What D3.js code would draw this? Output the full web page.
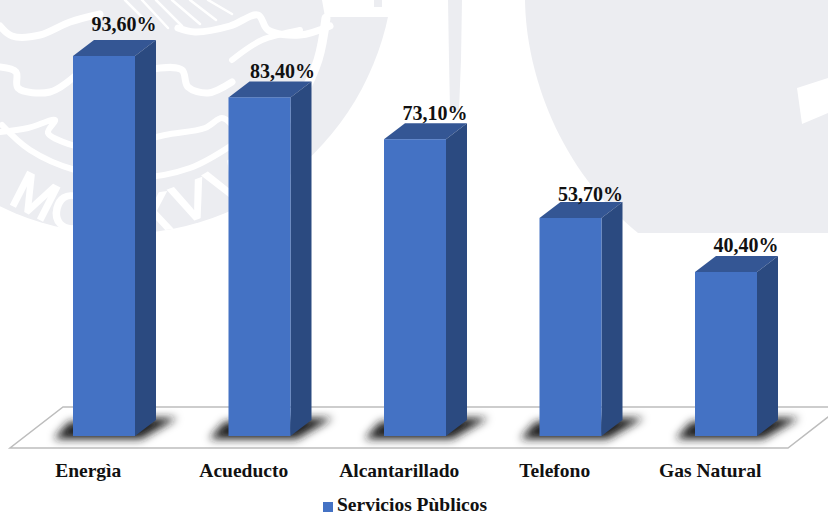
<!DOCTYPE html>
<html lang="es">
<head>
<meta charset="utf-8">
<script src="https://cdn.jsdelivr.net/npm/d3@7/dist/d3.min.js"></script>
<style>
  html, body { margin: 0; padding: 0; background: #fff; }
  svg { display: block; }
  text { font-family: "Liberation Serif", serif; font-weight: bold; fill: #111; }
</style>
</head>
<body>
<svg id="chart" width="828" height="515"></svg>
<script>
// Cobertura de servicios públicos
const categories = ["Energìa", "Acueducto", "Alcantarillado", "Telefono", "Gas Natural"];
const coverage = [93.6, 83.4, 73.1, 53.7, 40.4];
const valueLabels = ["93,60%", "83,40%", "73,10%", "53,70%", "40,40%"];
const seriesName = "Servicios Pùblicos";

// Offsets of each value label from the bar's rear top edge
const labelLift = [9, 3, 3, 1, 4];
const labelShift = [0, 3, 0, 0, 0];

const palette = { front: "#4472c4", side: "#2b4a80", top: "#345694", wash: "#ecedf1" };
const depth = { dx: 21, dy: -16 };
const barWidth = 62;
const barInset = 62.5;

const svg = d3.select("#chart");
const x = d3.scaleBand().domain(categories).range([10.5, 788]);
const y = d3.scaleLinear().domain([0, 100]).range([436, 30]);

const line = d3.line().curve(d3.curveCatmullRom.alpha(0.5));
const poly = pts => "M" + pts.map(p => p.join(",")).join("L") + "Z";

// Soft shadow filter for the floor
const defs = svg.append("defs");
defs.append("filter").attr("id", "soft").attr("x", "-40%").attr("y", "-80%")
  .attr("width", "180%").attr("height", "260%")
  .append("feGaussianBlur").attr("stdDeviation", 4.5);

// Background seal: pale discs
const wash = svg.append("g").attr("class", "seal");
wash.append("circle").attr("cx", 120).attr("cy", -40).attr("r", 274).attr("fill", palette.wash);
wash.append("path").attr("fill", palette.wash)
  .attr("d", "M525,0 C526,75 560,170 638,233 L828,233 L828,0 Z");
wash.append("path").attr("fill", "#fff").attr("d", poly([[797, 88], [828, 78], [828, 113], [802, 124]]));
wash.append("path").attr("fill", palette.wash).attr("d", poly([[448, 0], [462, 0], [461, 60], [459, 110], [450, 110], [449, 60]]));

// Seal: white cut-outs clearing the top right of the disc
wash.append("path").attr("fill", "#fff").attr("d", "M325,17 L395,17 L395,0 L382,0 L382,7 L374,7 L374,0 L322,0 Z");

// Seal: ribbons and feathers
const ribbons = [
  { w: 7, pts: [[0, 26], [12, 36], [40, 35], [70, 22], [100, 14]] },
  { w: 7, pts: [[178, 28], [195, 32], [230, 26], [258, 15], [268, 30], [300, 35], [330, 26]] },
  { w: 7, pts: [[0, 67], [16, 72], [18, 88], [50, 92], [75, 76]] },
  { w: 7, pts: [[132, 76], [160, 68], [182, 70], [188, 87], [208, 93], [232, 82]] },
  { w: 6, pts: [[0, 132], [28, 128], [55, 120], [48, 133], [75, 146]] },
  { w: 6, pts: [[132, 143], [165, 135], [205, 128], [222, 118], [232, 125]] },
  { w: 6, pts: [[2, 125], [30, 150], [75, 170], [135, 178], [190, 168], [232, 145]] },
  { w: 9, pts: [[326, 18], [318, 60], [300, 100], [280, 130]] },
  { w: 6, pts: [[232, 60], [262, 40], [300, 30]] },
  { w: 2.5, pts: [[125, 0], [150, 25]] },
  { w: 2.5, pts: [[142, 0], [168, 28]] },
  { w: 2.5, pts: [[156, 0], [182, 26]] },
  { w: 2.5, pts: [[172, 0], [200, 24]] },
  { w: 2.5, pts: [[190, 0], [216, 20]] },
  { w: 2.5, pts: [[208, 0], [232, 14]] }
];
wash.selectAll("path.ribbon").data(ribbons).join("path")
  .attr("class", "ribbon")
  .attr("d", d => line(d.pts))
  .attr("fill", "none").attr("stroke", "#fff")
  .attr("stroke-width", d => d.w).attr("stroke-linecap", "round");

// Seal: founding year around the rim
const rim = [["M", 27, 212, 27], ["C", 66, 229, 14], ["X", 155, 230, -8], ["V", 197, 218, -20], ["V", 236, 198, -30]];
wash.selectAll("text").data(rim).join("text")
  .attr("transform", d => `translate(${d[1]},${d[2]}) rotate(${d[3]})`)
  .attr("text-anchor", "middle")
  .style("font-family", "'Liberation Sans', sans-serif")
  .style("font-weight", "normal")
  .style("font-size", "52px")
  .style("fill", "#fff")
  .style("stroke", "#fff")
  .style("stroke-width", "2.5px")
  .text(d => d[0]);

// Floor of the 3D plot
const floorX = [10, 788, 841, 63];
const floorY = [448, 448, 407, 407];
svg.append("path")
  .attr("d", poly(floorX.map((fx, i) => [fx, floorY[i]])))
  .attr("fill", "#fff").attr("stroke", "#bdbdbd").attr("stroke-width", 1.5);

const bars = svg.selectAll("g.bar")
  .data(categories.map((c, i) => ({ c, v: coverage[i], label: valueLabels[i], lift: labelLift[i], shift: labelShift[i] })))
  .join("g").attr("class", "bar")
  .attr("transform", d => `translate(${x(d.c) + barInset},0)`);

// Cast shadow on the floor
bars.append("path")
  .attr("d", () => {
    const b = y(0);
    return poly([[-19, b + 3], [barWidth + 6, b + 3], [barWidth + 42, b - 18], [barWidth + 4, b - 18], [-4, b - 14]]);
  })
  .attr("fill", "#1c1c1c").attr("filter", "url(#soft)");

// Top, side and front faces
bars.append("path").attr("fill", palette.top)
  .attr("d", d => {
    const t = y(d.v);
    return poly([[0, t], [barWidth, t], [barWidth + depth.dx, t + depth.dy], [depth.dx, t + depth.dy]]);
  });
bars.append("path").attr("fill", palette.side)
  .attr("d", d => {
    const t = y(d.v), b = y(0);
    return poly([[barWidth, t], [barWidth + depth.dx, t + depth.dy], [barWidth + depth.dx, b + depth.dy], [barWidth, b]]);
  });
bars.append("rect").attr("fill", palette.front)
  .attr("x", 0).attr("width", barWidth)
  .attr("y", d => y(d.v)).attr("height", d => y(0) - y(d.v));

// Value labels above each bar
bars.append("text")
  .attr("x", d => depth.dx + barWidth / 2 - 1 + d.shift)
  .attr("y", d => y(d.v) + depth.dy - d.lift)
  .attr("text-anchor", "middle")
  .style("font-size", "20px")
  .text(d => d.label);

// Category axis
const axis = svg.append("g").attr("transform", "translate(0,458)")
  .call(d3.axisBottom(x).tickSize(0).tickPadding(5));
axis.select(".domain").remove();
axis.selectAll("text")
  .attr("font-family", null)
  .style("font-family", "'Liberation Serif', serif")
  .style("font-size", "19.5px");

// Legend
const legend = svg.append("g").attr("transform", "translate(323,502)");
legend.append("rect").attr("width", 10).attr("height", 10).attr("fill", palette.front);
legend.append("text").attr("x", 14).attr("y", 8.7).style("font-size", "19.5px").text(seriesName);
</script>
</body>
</html>
